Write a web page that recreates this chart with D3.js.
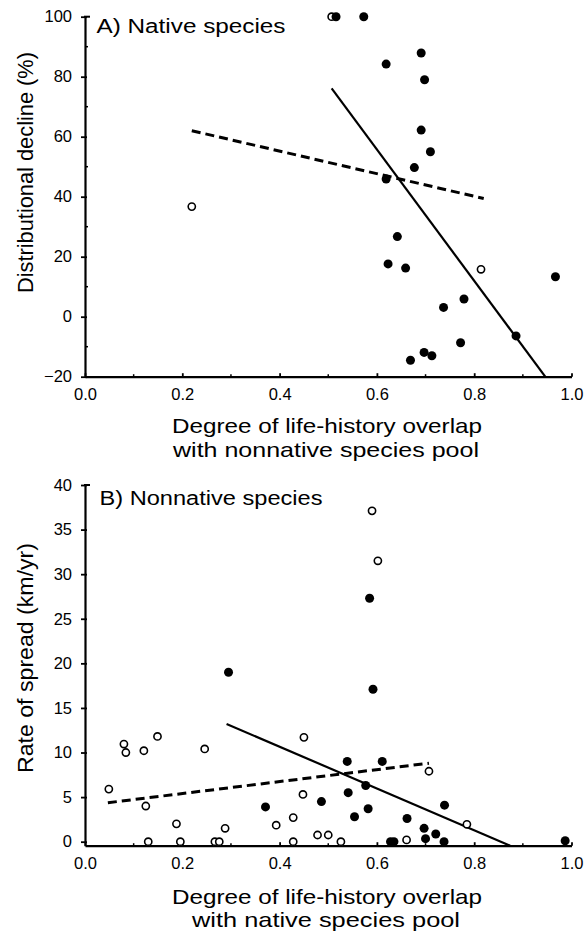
<!DOCTYPE html>
<html>
<head>
<meta charset="utf-8">
<script src="https://cdn.jsdelivr.net/npm/d3@7"></script>
<style>
  body { margin: 0; background: #fff; }
  svg text { font-family: "Liberation Sans", Arial, sans-serif; fill: #000; }
</style>
</head>
<body>
<svg id="chart" width="585" height="932"></svg>
<script>
// panel A: native species (x = overlap, y = decline %)
var filledA = [
  [0.516,100],[0.573,100],[0.691,87.9],[0.619,84.2],[0.698,79.0],[0.691,62.2],
  [0.710,55.0],[0.677,49.7],[0.619,45.9],[0.642,26.7],[0.623,17.6],[0.659,16.2],
  [0.967,13.3],[0.779,5.9],[0.737,3.1],[0.886,-6.4],[0.772,-8.7],[0.697,-11.9],
  [0.713,-13.0],[0.669,-14.5]
];
var openA = [[0.507,100],[0.2195,36.7],[0.814,15.8]];
var solidA = [[0.507,76.1],[0.946,-20]];
var dashA = [[0.2195,62.0],[0.8196,39.4]];
var yTicksA = [-20,0,20,40,60,80,100];

// panel B: nonnative species (x = overlap, y = spread km/yr)
var filledB = [
  [0.585,27.3],[0.592,17.1],[0.295,19.0],[0.539,9.0],[0.611,9.0],[0.577,6.3],
  [0.541,5.5],[0.486,4.5],[0.739,4.1],[0.371,3.9],[0.582,3.7],[0.554,2.8],
  [0.662,2.6],[0.697,1.5],[0.721,0.86],[0.700,0.34],[0.628,0],[0.635,0],
  [0.738,0],[0.987,0.1]
];
var openB = [
  [0.590,37.1],[0.602,31.5],[0.450,11.7],[0.707,7.9],[0.448,5.3],[0.428,2.7],
  [0.785,1.95],[0.478,0.75],[0.500,0.75],[0.661,0.2],[0.428,0],[0.526,0],
  [0.080,10.95],[0.084,10.0],[0.121,10.2],[0.149,11.8],[0.246,10.4],[0.049,5.9],
  [0.125,4.0],[0.188,2.0],[0.393,1.85],[0.288,1.5],[0.130,0],[0.196,0],
  [0.267,0],[0.276,0]
];
var solidB = [[0.291,13.2],[0.874,-0.45]];
var dashB = [[0.047,4.37],[0.707,8.8]];
var yTicksB = [0,5,10,15,20,25,30,35,40];

var xTicks = [0,0.2,0.4,0.6,0.8,1.0];

var svg = d3.select("#chart");

// text drawn a bit wider than Arial, like the original figure
function label(g, txt, size, w) {
  return g.append("text").style("font-size", size + "px")
    .attr("textLength", w).attr("lengthAdjust", "spacingAndGlyphs").text(txt);
}

function drawPanel(opt) {
  var x = d3.scaleLinear().domain([0,1]).range([85,571.5]);
  var y = d3.scaleLinear().domain(opt.yDomain).range(opt.yRange);
  var g = svg.append("g");
  var y0 = opt.yRange[0];

  // x axis, ticks point up into the plot
  var xa = g.append("g").attr("transform","translate(0,"+y0+")")
    .call(d3.axisBottom(x).tickValues(xTicks).tickFormat(d3.format(".1f"))
      .tickSizeInner(-3.5).tickSizeOuter(0).tickPadding(11.5));
  xa.selectAll("text").style("font-size","16.5px");
  // minor x ticks
  g.selectAll(".mx").data([0.1,0.3,0.5,0.7,0.9]).enter().append("line")
    .attr("x1",function(d){return x(d);}).attr("x2",function(d){return x(d);})
    .attr("y1",y0).attr("y2",y0-2.5).attr("stroke","#000").attr("stroke-width",1.5);

  // y axis
  var ya = g.append("g").attr("transform","translate(85,0)")
    .call(d3.axisLeft(y).tickValues(opt.yTicks).tickFormat(function(d){return d<0 ? "\u2212"+(-d) : d;})
      .tickSizeInner(4).tickSizeOuter(0).tickPadding(9));
  ya.selectAll("text").style("font-size","16.5px");
  ya.selectAll(".tick line").attr("x2",-4).attr("x1",2);
  if (opt.yMinor) {
    g.selectAll(".my").data(opt.yMinor).enter().append("line")
      .attr("x1",85).attr("x2",88)
      .attr("y1",function(d){return y(d);}).attr("y2",function(d){return y(d);})
      .attr("stroke","#000").attr("stroke-width",1.5);
  }
  // top cap
  g.append("line").attr("x1",84).attr("x2",90)
    .attr("y1",opt.yRange[1]).attr("y2",opt.yRange[1])
    .attr("stroke","#000").attr("stroke-width",2);

  [xa, ya].forEach(function(a){
    a.select(".domain").attr("stroke-width",2.2);
    a.selectAll(".tick line").attr("stroke-width",1.8);
  });

  var line = d3.line().x(function(d){return x(d[0]);}).y(function(d){return y(d[1]);});
  g.append("path").attr("d",line(opt.dash)).attr("fill","none")
    .attr("stroke","#000").attr("stroke-width",3).attr("stroke-dasharray","9,5");
  g.append("path").attr("d",line(opt.solid)).attr("fill","none")
    .attr("stroke","#000").attr("stroke-width",2.2);

  g.selectAll(".op").data(opt.open).enter().append("circle")
    .attr("cx",function(d){return x(d[0]);}).attr("cy",function(d){return y(d[1]);})
    .attr("r",3.6).attr("fill","#fff").attr("stroke","#000").attr("stroke-width",1.6);
  g.selectAll(".fp").data(opt.filled).enter().append("circle")
    .attr("cx",function(d){return x(d[0]);}).attr("cy",function(d){return y(d[1]);})
    .attr("r",4.5).attr("fill","#000");

  label(g, opt.title, 20, opt.titleW).attr("x",opt.titleX).attr("y",opt.titleY);

  label(g, "Degree of life-history overlap", 21, 310)
    .attr("x",327).attr("y",opt.xLabY).attr("text-anchor","middle");
  label(g, opt.xLab2, 21, opt.xLab2W)
    .attr("x",326).attr("y",opt.xLabY+23.5).attr("text-anchor","middle");

  label(g, opt.yLab, 22, opt.yLabW).attr("text-anchor","middle")
    .attr("transform","translate(33,"+opt.yLabC+") rotate(-90)");
}

drawPanel({
  yDomain:[-20,100], yRange:[376.7,16.7], yTicks:yTicksA,
  yMinor:[-10,10,30,50,70,90],
  filled:filledA, open:openA, solid:solidA, dash:dashA,
  title:"A) Native species", titleX:96.5, titleY:33, titleW:189,
  xLabY:433, xLab2:"with nonnative species pool", xLab2W:306,
  yLab:"Distributional decline (%)", yLabC:172.5, yLabW:241
});

drawPanel({
  yDomain:[-0.45,40], yRange:[845.7,485], yTicks:yTicksB,
  yMinor:null,
  filled:filledB, open:openB, solid:solidB, dash:dashB,
  title:"B) Nonnative species", titleX:99.5, titleY:505, titleW:223,
  xLabY:903.5, xLab2:"with native species pool", xLab2W:268,
  yLab:"Rate of spread (km/yr)", yLabC:658, yLabW:230
});
</script>
</body>
</html>
